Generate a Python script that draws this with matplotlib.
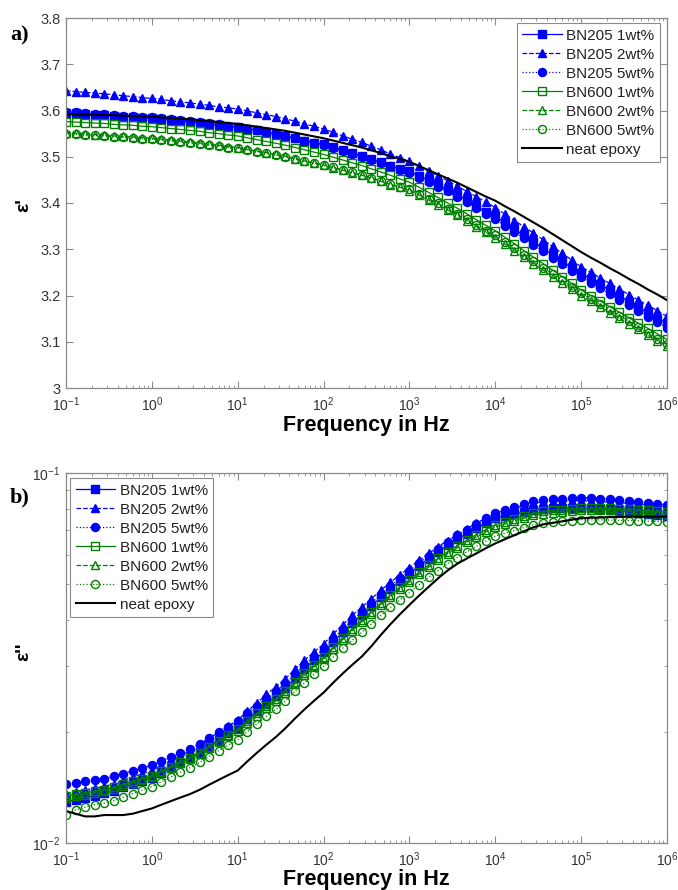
import numpy as np
import matplotlib.pyplot as plt
from matplotlib.ticker import LogLocator, NullFormatter, FixedLocator

plt.rcParams['font.family'] = ['Liberation Sans', 'DejaVu Sans']
plt.rcParams['mathtext.fontset'] = 'custom'
plt.rcParams['mathtext.rm'] = 'Liberation Sans'
plt.rcParams['mathtext.it'] = 'Liberation Sans:italic'
plt.rcParams['mathtext.bf'] = 'Liberation Sans:bold'

# === data (9 points per decade, 0.1 Hz .. 1 MHz) ===
freq = np.logspace(-1, 6, 64)
decades = [1e-1, 1e0, 1e1, 1e2, 1e3, 1e4, 1e5, 1e6]

labels = ["BN205 1wt%", "BN205 2wt%", "BN205 5wt%",
          "BN600 1wt%", "BN600 2wt%", "BN600 5wt%", "neat epoxy"]

# real part eps'
eps1_bn205_1 = [3.595, 3.594, 3.592, 3.591, 3.590, 3.588, 3.587, 3.586, 3.584,
                3.583, 3.581, 3.579, 3.577, 3.575, 3.573, 3.570, 3.568, 3.565,
                3.565, 3.561, 3.557, 3.553, 3.549, 3.545, 3.540, 3.535, 3.530,
                3.527, 3.521, 3.515, 3.508, 3.502, 3.495, 3.488, 3.481, 3.474,
                3.469, 3.459, 3.449, 3.439, 3.429, 3.418, 3.406, 3.393, 3.381,
                3.371, 3.357, 3.343, 3.330, 3.316, 3.302, 3.288, 3.274, 3.260,
                3.248, 3.236, 3.224, 3.211, 3.199, 3.187, 3.175, 3.162, 3.150,
                3.140]
eps1_bn205_2 = [3.643, 3.641, 3.639, 3.638, 3.636, 3.634, 3.632, 3.630, 3.628,
                3.626, 3.624, 3.621, 3.619, 3.616, 3.614, 3.611, 3.608, 3.606,
                3.603, 3.599, 3.595, 3.591, 3.587, 3.582, 3.577, 3.571, 3.566,
                3.560, 3.553, 3.545, 3.538, 3.531, 3.523, 3.515, 3.506, 3.498,
                3.490, 3.480, 3.469, 3.459, 3.448, 3.437, 3.425, 3.414, 3.402,
                3.390, 3.376, 3.362, 3.349, 3.335, 3.321, 3.306, 3.291, 3.277,
                3.262, 3.250, 3.238, 3.226, 3.214, 3.202, 3.190, 3.179, 3.167,
                3.155]
eps1_bn205_5 = [3.597, 3.596, 3.594, 3.593, 3.592, 3.590, 3.589, 3.588, 3.586,
                3.585, 3.583, 3.581, 3.579, 3.577, 3.575, 3.572, 3.570, 3.567,
                3.565, 3.561, 3.557, 3.553, 3.549, 3.545, 3.540, 3.535, 3.530,
                3.525, 3.519, 3.513, 3.506, 3.500, 3.493, 3.486, 3.479, 3.472,
                3.465, 3.455, 3.445, 3.435, 3.425, 3.414, 3.402, 3.389, 3.377,
                3.365, 3.351, 3.337, 3.324, 3.310, 3.296, 3.282, 3.268, 3.254,
                3.240, 3.228, 3.216, 3.203, 3.191, 3.179, 3.167, 3.154, 3.142,
                3.130]
eps1_bn600_1 = [3.576, 3.575, 3.574, 3.573, 3.572, 3.570, 3.569, 3.568, 3.566,
                3.565, 3.563, 3.561, 3.559, 3.557, 3.555, 3.552, 3.550, 3.547,
                3.545, 3.541, 3.537, 3.533, 3.529, 3.525, 3.520, 3.515, 3.510,
                3.505, 3.499, 3.493, 3.487, 3.481, 3.474, 3.467, 3.460, 3.452,
                3.445, 3.434, 3.423, 3.412, 3.400, 3.389, 3.377, 3.364, 3.352,
                3.340, 3.326, 3.312, 3.297, 3.283, 3.269, 3.255, 3.241, 3.226,
                3.212, 3.200, 3.188, 3.176, 3.164, 3.152, 3.140, 3.129, 3.117,
                3.105]
eps1_bn600_2 = [3.552, 3.551, 3.549, 3.548, 3.547, 3.545, 3.544, 3.543, 3.541,
                3.540, 3.538, 3.536, 3.534, 3.532, 3.530, 3.527, 3.525, 3.522,
                3.520, 3.516, 3.512, 3.509, 3.505, 3.501, 3.496, 3.491, 3.487,
                3.482, 3.476, 3.471, 3.465, 3.460, 3.454, 3.447, 3.440, 3.434,
                3.427, 3.417, 3.406, 3.396, 3.385, 3.374, 3.362, 3.349, 3.337,
                3.325, 3.311, 3.297, 3.283, 3.269, 3.255, 3.241, 3.228, 3.214,
                3.200, 3.188, 3.176, 3.163, 3.151, 3.139, 3.127, 3.114, 3.102,
                3.090]
eps1_bn600_5 = [3.550, 3.549, 3.547, 3.546, 3.545, 3.543, 3.542, 3.541, 3.539,
                3.538, 3.536, 3.534, 3.532, 3.530, 3.528, 3.525, 3.523, 3.520,
                3.519, 3.515, 3.511, 3.508, 3.504, 3.500, 3.495, 3.490, 3.486,
                3.483, 3.477, 3.472, 3.466, 3.461, 3.455, 3.448, 3.441, 3.435,
                3.430, 3.420, 3.409, 3.399, 3.388, 3.377, 3.365, 3.352, 3.340,
                3.330, 3.316, 3.302, 3.288, 3.274, 3.260, 3.246, 3.233, 3.219,
                3.205, 3.193, 3.181, 3.168, 3.156, 3.144, 3.132, 3.119, 3.107,
                3.095]
eps1_neat = [3.592, 3.592, 3.591, 3.591, 3.590, 3.590, 3.589, 3.588, 3.588,
             3.587, 3.585, 3.584, 3.582, 3.581, 3.579, 3.577, 3.575, 3.573,
             3.571, 3.568, 3.565, 3.562, 3.559, 3.556, 3.552, 3.548, 3.544,
             3.540, 3.535, 3.530, 3.525, 3.520, 3.514, 3.508, 3.501, 3.495,
             3.489, 3.480, 3.471, 3.462, 3.453, 3.444, 3.434, 3.424, 3.414,
             3.405, 3.393, 3.382, 3.370, 3.358, 3.346, 3.333, 3.320, 3.307,
             3.294, 3.282, 3.271, 3.259, 3.248, 3.236, 3.225, 3.213, 3.202,
             3.190]

# imaginary part eps''
eps2_bn205_1 = [0.0129, 0.01308, 0.01326, 0.01343, 0.01361, 0.01384, 0.01413, 0.01442, 0.01471,
                0.0150, 0.01549, 0.01598, 0.01647, 0.01696, 0.01757, 0.0183, 0.01903, 0.01977,
                0.0205, 0.0216, 0.0227, 0.0238, 0.0249, 0.0263, 0.0279, 0.0296, 0.0312,
                0.0328, 0.0350, 0.0371, 0.0393, 0.0414, 0.0437, 0.0462, 0.0486, 0.0511,
                0.0535, 0.0561, 0.0586, 0.0612, 0.0637, 0.0662, 0.0685, 0.0708, 0.0732,
                0.0755, 0.0765, 0.0775, 0.0785, 0.0795, 0.0801, 0.0802, 0.0803, 0.0804,
                0.0805, 0.0802, 0.0798, 0.0795, 0.0792, 0.0787, 0.0782, 0.0776, 0.0771,
                0.0765]
eps2_bn205_2 = [0.0136, 0.01376, 0.01391, 0.01407, 0.01422, 0.01446, 0.01477, 0.01508, 0.01539,
                0.0157, 0.01621, 0.01672, 0.01723, 0.01774, 0.01839, 0.01917, 0.01995, 0.02072,
                0.0215, 0.0227, 0.0239, 0.0252, 0.0264, 0.0278, 0.0295, 0.0312, 0.0328,
                0.0345, 0.0367, 0.0389, 0.0412, 0.0434, 0.0457, 0.0482, 0.0506, 0.0531,
                0.0555, 0.0581, 0.0606, 0.0632, 0.0657, 0.0682, 0.0707, 0.0731, 0.0756,
                0.0780, 0.0792, 0.0804, 0.0817, 0.0829, 0.0836, 0.0837, 0.0839, 0.0840,
                0.0842, 0.0839, 0.0837, 0.0834, 0.0831, 0.0828, 0.0823, 0.0819, 0.0814,
                0.0810]
eps2_bn205_5 = [0.0144, 0.01453, 0.01467, 0.0148, 0.01493, 0.01513, 0.0154, 0.01567, 0.01593,
                0.0162, 0.01664, 0.01709, 0.01753, 0.01798, 0.01854, 0.01923, 0.01992, 0.02061,
                0.0213, 0.0224, 0.0235, 0.0246, 0.0257, 0.0270, 0.0286, 0.0303, 0.0319,
                0.0335, 0.0357, 0.0378, 0.0400, 0.0421, 0.0445, 0.0470, 0.0495, 0.0520,
                0.0545, 0.0572, 0.0598, 0.0625, 0.0652, 0.0678, 0.0703, 0.0729, 0.0754,
                0.0780, 0.0794, 0.0809, 0.0823, 0.0838, 0.0846, 0.0849, 0.0852, 0.0855,
                0.0858, 0.0855, 0.0852, 0.0849, 0.0846, 0.0842, 0.0837, 0.0831, 0.0826,
                0.0820]
eps2_bn600_1 = [0.0134, 0.01353, 0.01367, 0.0138, 0.01393, 0.01413, 0.0144, 0.01467, 0.01493,
                0.0152, 0.01564, 0.01609, 0.01653, 0.01698, 0.01754, 0.01823, 0.01892, 0.01961,
                0.0203, 0.0213, 0.0224, 0.0234, 0.0245, 0.0258, 0.0273, 0.0288, 0.0303,
                0.0318, 0.0338, 0.0359, 0.0379, 0.0400, 0.0422, 0.0445, 0.0468, 0.0492,
                0.0515, 0.0539, 0.0564, 0.0588, 0.0613, 0.0636, 0.0658, 0.0681, 0.0703,
                0.0725, 0.0738, 0.0752, 0.0765, 0.0778, 0.0787, 0.0792, 0.0796, 0.0801,
                0.0805, 0.0804, 0.0803, 0.0802, 0.0801, 0.0798, 0.0795, 0.0792, 0.0788,
                0.0785]
eps2_bn600_2 = [0.0132, 0.01336, 0.01351, 0.01367, 0.01382, 0.01403, 0.0143, 0.01457, 0.01483,
                0.0151, 0.01554, 0.01599, 0.01643, 0.01688, 0.01743, 0.0181, 0.01877, 0.01943,
                0.0201, 0.0211, 0.0221, 0.0232, 0.0242, 0.0254, 0.0269, 0.0284, 0.0299,
                0.0314, 0.0334, 0.0354, 0.0375, 0.0395, 0.0416, 0.0439, 0.0462, 0.0485,
                0.0508, 0.0532, 0.0556, 0.0581, 0.0605, 0.0628, 0.0650, 0.0671, 0.0693,
                0.0715, 0.0728, 0.0742, 0.0755, 0.0768, 0.0777, 0.0782, 0.0786, 0.0791,
                0.0795, 0.0794, 0.0793, 0.0792, 0.0791, 0.0789, 0.0786, 0.0783, 0.0781,
                0.0778]
eps2_bn600_5 = [0.0119, 0.0123, 0.0125, 0.0127, 0.0128, 0.0130, 0.0133, 0.0136, 0.0139,
                0.0142, 0.01464, 0.01509, 0.01553, 0.01598, 0.01651, 0.01713, 0.01776, 0.01838,
                0.0190, 0.0200, 0.0210, 0.0220, 0.0230, 0.0242, 0.0257, 0.0271, 0.0286,
                0.0300, 0.0318, 0.0336, 0.0353, 0.0371, 0.0391, 0.0412, 0.0433, 0.0454,
                0.0475, 0.0498, 0.0522, 0.0545, 0.0568, 0.0591, 0.0612, 0.0633, 0.0654,
                0.0675, 0.0687, 0.0699, 0.0712, 0.0724, 0.0732, 0.0736, 0.0740, 0.0744,
                0.0748, 0.0747, 0.0747, 0.0746, 0.0745, 0.0744, 0.0743, 0.0741, 0.0740,
                0.0738]
eps2_neat = [0.0122, 0.0120, 0.0118, 0.0118, 0.0119, 0.0119, 0.0119, 0.0120, 0.0122,
             0.0124, 0.01269, 0.01298, 0.01327, 0.01356, 0.01392, 0.01437, 0.01481, 0.01526,
             0.0157, 0.01661, 0.01752, 0.01843, 0.01934, 0.02043, 0.0217, 0.02297, 0.02423,
             0.0255, 0.0271, 0.0287, 0.0303, 0.0319, 0.0340, 0.0365, 0.0390, 0.0415,
             0.0440, 0.0466, 0.0492, 0.0519, 0.0545, 0.0568, 0.0587, 0.0606, 0.0626,
             0.0645, 0.0662, 0.0679, 0.0696, 0.0713, 0.0726, 0.0733, 0.0740, 0.0748,
             0.0755, 0.0757, 0.0758, 0.0760, 0.0761, 0.0762, 0.0762, 0.0762, 0.0762,
             0.0762]

eps1 = [eps1_bn205_1, eps1_bn205_2, eps1_bn205_5,
        eps1_bn600_1, eps1_bn600_2, eps1_bn600_5, eps1_neat]
eps2 = [eps2_bn205_1, eps2_bn205_2, eps2_bn205_5,
        eps2_bn600_1, eps2_bn600_2, eps2_bn600_5, eps2_neat]

# (colour, linestyle, marker, filled)
blue = '#0000ff'
green = '#008000'
styles = [(blue, '-', 's', True), (blue, '--', '^', True), (blue, ':', 'o', True),
          (green, '-', 's', False), (green, '--', '^', False), (green, ':', 'o', False),
          ('k', '-', None, True)]

axcol = '#8a8a8a'
txtcol = '#333333'

fig = plt.figure(figsize=(6.78, 8.90), dpi=100)
ax1 = fig.add_axes([66/678, 1-388/890, 601/678, 370/890])
ax2 = fig.add_axes([66/678, 1-843/890, 601/678, 370/890])


def draw(ax, data):
    for vals, lab, (c, ls, mk, filled) in zip(data, labels, styles):
        if mk is None:
            ax.plot(freq, vals, color=c, ls=ls, lw=1.5, label=lab)
        else:
            ax.plot(freq, vals, color=c, ls=ls, lw=0.9, marker=mk,
                    markersize=6.2 if mk != 'o' else 5.8,
                    markerfacecolor=c if filled else 'none',
                    markeredgecolor=c, markeredgewidth=1.0, label=lab)
    ax.set_xscale('log')
    ax.set_xlim(0.1, 1e6)
    ax.xaxis.set_major_locator(FixedLocator(decades))
    ax.xaxis.set_minor_locator(LogLocator(base=10, subs=np.arange(2, 10), numticks=20))
    ax.xaxis.set_minor_formatter(NullFormatter())
    for s in ax.spines.values():
        s.set_color(axcol)
        s.set_linewidth(0.9)
    ax.tick_params(which='both', direction='in', top=True, right=True,
                   color=axcol, labelcolor=txtcol, labelsize=10)
    ax.tick_params(which='major', length=5)
    ax.tick_params(axis='x', which='major', pad=5.5)
    ax.tick_params(axis='y', which='major', pad=4)
    ax.tick_params(which='minor', length=2.5)


draw(ax1, eps1)
ax1.set_ylim(3, 3.8)
yt = [3.0, 3.1, 3.2, 3.3, 3.4, 3.5, 3.6, 3.7, 3.8]
ax1.set_yticks(yt)
ax1.set_yticklabels(['3', '3.1', '3.2', '3.3', '3.4', '3.5', '3.6', '3.7', '3.8'])
ax1.tick_params(axis='y', labelsize=10.5)

draw(ax2, eps2)
ax2.set_yscale('log')
ax2.set_ylim(0.01, 0.1)
ax2.yaxis.set_minor_formatter(NullFormatter())

leg_kw = dict(fontsize=11, numpoints=1, handlelength=2.6, handletextpad=0.3,
              labelspacing=0.33, borderpad=0.35, borderaxespad=0, fancybox=False,
              edgecolor=axcol, framealpha=1)
l1 = ax1.legend(loc='upper right', bbox_to_anchor=(0.988, 0.986), **leg_kw)
l2 = ax2.legend(loc='upper left', bbox_to_anchor=(0.007, 0.986), **leg_kw)
for lg in (l1, l2):
    lg.get_frame().set_linewidth(0.8)
    for t in lg.get_texts():
        t.set_color('#222222')

# axis labels and panel letters
fig.text(366/678, 1-426/890, 'Frequency in Hz', ha='center', va='center',
         fontsize=15.5, fontweight='bold')
fig.text(366/678, 1-880/890, 'Frequency in Hz', ha='center', va='center',
         fontsize=15.5, fontweight='bold')
fig.text(24/678, 1-205/890, "\u03b5'", ha='center', va='center', rotation=90,
         fontsize=14, fontweight='bold')
fig.text(24/678, 1-652/890, "\u03b5''", ha='center', va='center', rotation=90,
         fontsize=14, fontweight='bold')
fig.text(10/678, 1-35/890, 'a)', ha='left', va='center', fontsize=16,
         fontweight='bold', family='Liberation Serif')
fig.text(10/678, 1-497/890, 'b)', ha='left', va='center', fontsize=16,
         fontweight='bold', family='Liberation Serif')

fig.savefig('out.png', dpi=100)
